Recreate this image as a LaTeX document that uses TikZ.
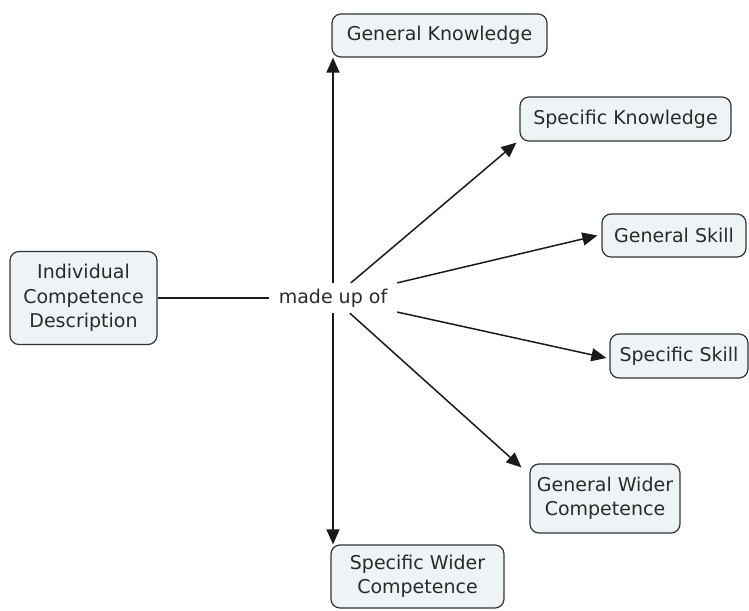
\documentclass[tikz,border=0pt]{standalone}
\usepackage{fontspec}
\setmainfont{DejaVu Sans}
\usetikzlibrary{arrows.meta}
\definecolor{boxfill}{HTML}{EEF3F6}
\definecolor{boxline}{HTML}{333333}
\definecolor{txt}{HTML}{2A2A2A}
\definecolor{lnk}{HTML}{1A1A1A}
\tikzset{
  concept/.style={draw=boxline, line width=1.2pt, fill=boxfill, rounded corners=9pt,
    align=center, inner sep=0pt, text=txt,
    font=\fontsize{19}{24.5}\selectfont},
  linker/.style={inner sep=0pt, minimum width=128pt, minimum height=30pt, text=txt,
    font=\fontsize{19}{24.5}\selectfont},
  conn/.style={draw=lnk, line width=1.5pt},
  arr/.style={conn, -{Triangle[length=15pt,width=13pt]}}
}
\begin{document}
\begin{tikzpicture}[x=1pt,y=-1pt]
\useasboundingbox (0,0) rectangle (749,610);

\node[concept, minimum width=147pt, minimum height=93pt] (icd) at (83.5,298) {Individual\\Competence\\Description};
\node[linker] (mu) at (333,298) {made up of};
\node[concept, minimum width=215pt, minimum height=43pt] (gk) at (439.5,35.5) {General Knowledge};
\node[concept, minimum width=211pt, minimum height=44pt] (sk) at (625.5,119) {Specific Knowledge};
\node[concept, minimum width=144pt, minimum height=43pt] (gs) at (674,235.5) {General Skill};
\node[concept, minimum width=138pt, minimum height=44pt] (ss) at (679,356) {Specific Skill};
\node[concept, minimum width=150pt, minimum height=69pt] (gwc) at (605,498.5) {General Wider\\Competence};
\node[concept, minimum width=173pt, minimum height=63pt] (swc) at (417.5,576.5) {Specific Wider\\Competence};

\draw[conn] (icd) -- (mu);
\draw[arr] (mu) -- (mu |- gk.south);
\draw[arr] (mu) -- (mu |- swc.north);
\draw[arr] (mu) -- ([xshift=-3pt,yshift=-1pt]sk.south west);
\draw[arr] (mu) -- ([xshift=-4pt]gs.west);
\draw[arr] (mu) -- ([xshift=-3pt,yshift=-2pt]ss.west);
\draw[arr] (mu) -- ([xshift=-8pt,yshift=-4pt]gwc.north west);
\end{tikzpicture}
\end{document}
